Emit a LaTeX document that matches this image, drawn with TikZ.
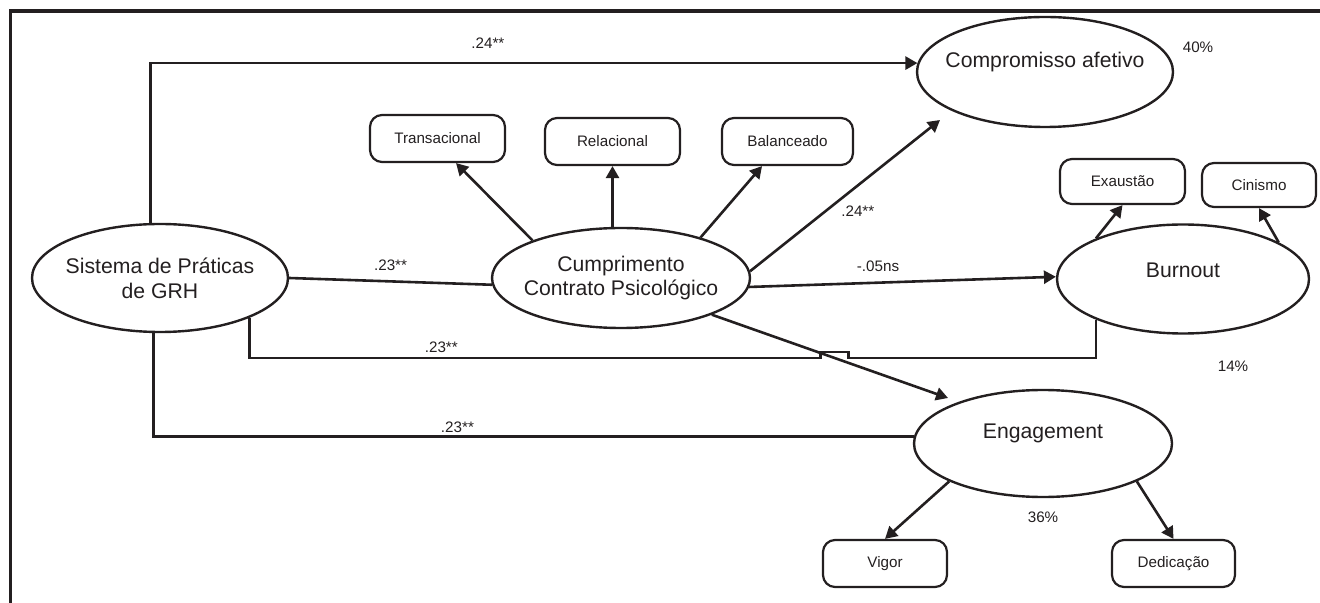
\documentclass[tikz,border=0pt]{standalone}
\usepackage{fontspec}
\setmainfont{Liberation Sans}
\usepackage{tikz}
\usetikzlibrary{shapes.geometric,arrows.meta,positioning}
\definecolor{ink}{HTML}{231F20}

\begin{document}
\begin{tikzpicture}[x=0.5pt,y=-0.5pt,>={Triangle[length=6pt,width=6.5pt]},
	every node/.style={text=ink},
	latent/.style={ellipse,draw=ink,line width=1.2pt,inner sep=0pt},
	big/.style={align=center,inner sep=0pt,font=\fontsize{10.6pt}{12.4pt}\selectfont},
	ind/.style={draw=ink,line width=1.1pt,rounded corners=6pt,minimum height=23.5pt,inner sep=0pt,font=\fontsize{7.6pt}{9pt}\selectfont},
	lab/.style={inner sep=1pt,font=\fontsize{7.6pt}{9pt}\selectfont},
	link/.style={draw=ink,line width=1.3pt}]
		\useasboundingbox (0,0) rectangle (1320,603);
		\draw[draw=ink,line width=1.6pt] (1320,11) -| (10.5,603);

		\node[latent,minimum width=128pt,minimum height=54pt,label={[big]center:Sistema de Práticas\\de GRH}] (sp) at (160,278) {};
		\node[latent,minimum width=129pt,minimum height=50pt,label={[big]center:Cumprimento\\Contrato Psicológico}] (ccp) at (621,278) {};
		\node[latent,minimum width=128pt,minimum height=55pt,label={[big,yshift=5pt]center:Compromisso afetivo}] (ca) at (1045,72) {};
		\node[latent,minimum width=126pt,minimum height=54.5pt,label={[big,yshift=4.5pt]center:Burnout}] (bo) at (1183,279) {};
		\node[latent,minimum width=129pt,minimum height=53.5pt,label={[big,yshift=5pt]center:Engagement}] (en) at (1043,443.5) {};

		\node[ind,minimum width=67.5pt] (tran) at (437.5,138.5) {Transacional};
		\node[ind,minimum width=67.5pt] (rel) at (612.5,141.5) {Relacional};
		\node[ind,minimum width=65.5pt] (bal) at (787.5,141.5) {Balanceado};
		\node[ind,minimum width=62.5pt,minimum height=22.5pt] (exa) at (1122.5,181.5) {Exaustão};
		\node[ind,minimum width=57pt,minimum height=22pt] (cin) at (1259,185) {Cinismo};
		\node[ind,minimum width=62pt] (vig) at (885,563.5) {Vigor};
		\node[ind,minimum width=61.5pt] (ded) at (1173.5,563.5) {Dedicação};

		\node[lab] (pca) at (1198,47) {40\%};
		\node[lab] (pbo) at (1233,366) {14\%};
		\node[lab] (pen) at (1043,517) {36\%};

		\coordinate (caend) at (940,120);
		\coordinate (enend) at (948,398);

		\draw[link,->] (ccp.157) -- (tran.307);
		\draw[link,->] (ccp.north -| rel) -- (rel.south);
		\draw[link,->] (ccp.27) -- (bal.224);
		\draw[link,->] (ccp.3) -- node[lab,pos=0.4,right=6pt] {.24**} (caend);
		\draw[link,->] (ccp.-4) -- node[lab,pos=0.42,above=4pt] {-.05ns} (bo.179);
		\draw[link] (sp.east) -- node[lab,above=3.5pt] {.23**} (ccp.183);
		\draw[link,->] (sp.100) |- node[lab,pos=0.72,above=5.5pt] {.24**} (ca.176);
		\draw[link] (sp.-24) -- ++(0,40) -- node[lab,pos=0.336,above=1pt] {.23**} ++(571,0)
			-- ++(0,-6) -- ++(28,0) -- ++(0,6) -| (bo.205);
		\draw[link] (sp.263) |- node[lab,pos=0.7,above=0.5pt] {.23**} (en.177);
		\draw[link,->] (ccp.-22) -- (enend);
		\draw[link,->] (bo.155) -- (exa.south);
		\draw[link,->] (bo.21) -- (cin.south);
		\draw[link,->] (en.202) -- (vig.north);
		\draw[link,->] (en.-22) -- (ded.north);
	\end{tikzpicture}
\end{document}
